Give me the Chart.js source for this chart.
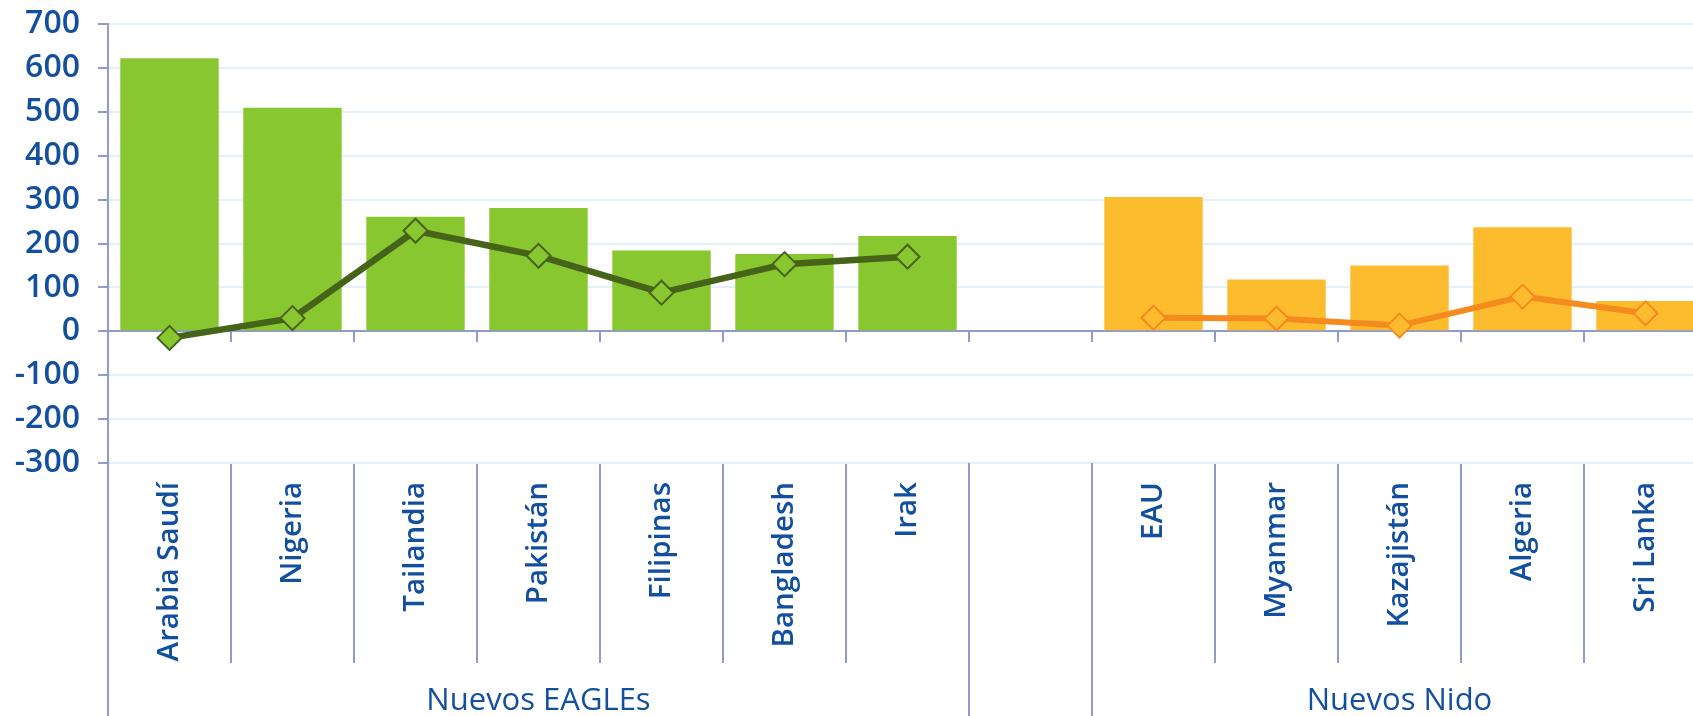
<!DOCTYPE html>
<html>
<head>
<meta charset="utf-8">
<script src="https://cdn.jsdelivr.net/npm/chart.js@4/dist/chart.umd.min.js"></script>
<style>
  html, body { margin: 0; padding: 0; background: #ffffff; overflow: hidden; }
  #outer { width: 1693px; height: 716px; overflow: hidden; position: relative; }
  #inner { width: 1707px; height: 716px; position: relative; }
  canvas { display: block; }
</style>
</head>
<body>
<div id="outer"><div id="inner"><canvas id="c"></canvas></div></div>
<script>
// ---- Data ----
const categories = ['Arabia Saudí', 'Nigeria', 'Tailandia', 'Pakistán', 'Filipinas', 'Bangladesh', 'Irak', '', 'EAU', 'Myanmar', 'Kazajistán', 'Algeria', 'Sri Lanka'];
const eaglesBars = [622, 509, 261, 281, 184, 176, 217, null, null, null, null, null, null];
const eaglesLine = [-15, 30, 229, 172, 88, 153, 170, null, null, null, null, null, null];
const nidoBars = [null, null, null, null, null, null, null, null, 306, 118, 150, 237, 69];
const nidoLine = [null, null, null, null, null, null, null, null, 31, 29, 13, 79, 41];
const groupNames = ['Nuevos EAGLEs', 'Nuevos Nido'];
const groupFrom = [0, 8];
const groupTo = [6, 12];
const yMin = -300, yMax = 700, yStep = 100;

// ---- Style ----
const BLUE = '#12509f';
const AXIS = '#8f9bc9';
const GRID = '#e3f0fa';

const groupPlugin = {
  id: 'groupPlugin',
  afterDraw(chart) {
    const xs = chart.scales.x;
    const ca = chart.chartArea;
    const ctx = chart.ctx;
    const half = (xs.getPixelForValue(1) - xs.getPixelForValue(0)) / 2;
    ctx.save();
    ctx.strokeStyle = AXIS;
    ctx.lineWidth = 2;
    groupNames.forEach((name, g) => {
      const l = xs.getPixelForValue(groupFrom[g]) - half;
      const r = xs.getPixelForValue(groupTo[g]) + half;
      [l, r].forEach(px => {
        ctx.beginPath();
        ctx.moveTo(Math.round(px), ca.bottom);
        ctx.lineTo(Math.round(px), chart.height);
        ctx.stroke();
      });
      ctx.fillStyle = BLUE;
      ctx.font = '31px "Open Sans"';
      ctx.textAlign = 'center';
      ctx.textBaseline = 'alphabetic';
      ctx.fillText(name, (l + r) / 2, chart.height - 6);
    });
    ctx.restore();
  }
};

new Chart(document.getElementById('c'), {
  data: {
    labels: categories,
    datasets: [
      { type: 'line', data: eaglesLine, borderColor: '#46631a', borderWidth: 6.5,
        pointStyle: 'rectRot', pointRadius: 12, pointBackgroundColor: '#89c730',
        pointBorderColor: '#46631a', pointBorderWidth: 2, spanGaps: false, order: 0,
        xAxisID: 'x', yAxisID: 'y' },
      { type: 'line', data: nidoLine, borderColor: '#f58a1f', borderWidth: 6,
        pointStyle: 'rectRot', pointRadius: 12, pointBackgroundColor: '#fdbc2e',
        pointBorderColor: '#f58a1f', pointBorderWidth: 2, spanGaps: false, order: 0,
        xAxisID: 'x', yAxisID: 'y' },
      { type: 'bar', data: eaglesBars, backgroundColor: '#89c730', grouped: false,
        barPercentage: 0.8, categoryPercentage: 1.0, order: 1, xAxisID: 'x', yAxisID: 'y' },
      { type: 'bar', data: nidoBars, backgroundColor: '#fdbc2e', grouped: false,
        barPercentage: 0.8, categoryPercentage: 1.0, order: 1, xAxisID: 'x', yAxisID: 'y' }
    ]
  },
  options: {
    responsive: true,
    maintainAspectRatio: false,
    animation: false,
    devicePixelRatio: 1,
    layout: { autoPadding: false, padding: { top: 24, left: 0, right: 0, bottom: 0 } },
    plugins: { legend: { display: false }, tooltip: { enabled: false }, title: { display: false } },
    scales: {
      x: {
        type: 'category',
        position: 'bottom',
        offset: true,
        grid: { display: true, offset: true, drawOnChartArea: false, drawTicks: true,
                tickLength: 200, color: AXIS, lineWidth: 2 },
        border: { display: false },
        ticks: { autoSkip: false, minRotation: 90, maxRotation: 90, padding: -181,
                 color: BLUE, font: { family: 'Open Sans', size: 29.5, weight: '600' } },
        afterFit(scale) { scale.height = 253; scale.paddingLeft = 0; scale.paddingRight = 0; }
      },
      xz: {
        type: 'category',
        axis: 'x',
        position: { y: 0 },
        offset: true,
        grid: { display: true, offset: true, drawOnChartArea: false, drawTicks: true,
                tickLength: 10, color: AXIS, lineWidth: 2 },
        border: { display: true, color: AXIS, width: 2 },
        ticks: { display: false }
      },
      y: {
        type: 'linear',
        position: 'left',
        min: yMin,
        max: yMax,
        grid: { color: GRID, lineWidth: 2, drawTicks: true, tickLength: 10, tickColor: AXIS, tickWidth: 2 },
        border: { display: true, color: AXIS, width: 2 },
        ticks: { stepSize: yStep, padding: 18, color: BLUE, font: { family: 'Open Sans', size: 32, weight: '600' } },
        afterFit(scale) { scale.width = 108; scale.paddingTop = 0; scale.paddingBottom = 0; }
      }
    }
  },
  plugins: [groupPlugin]
});
</script>
</body>
</html>
